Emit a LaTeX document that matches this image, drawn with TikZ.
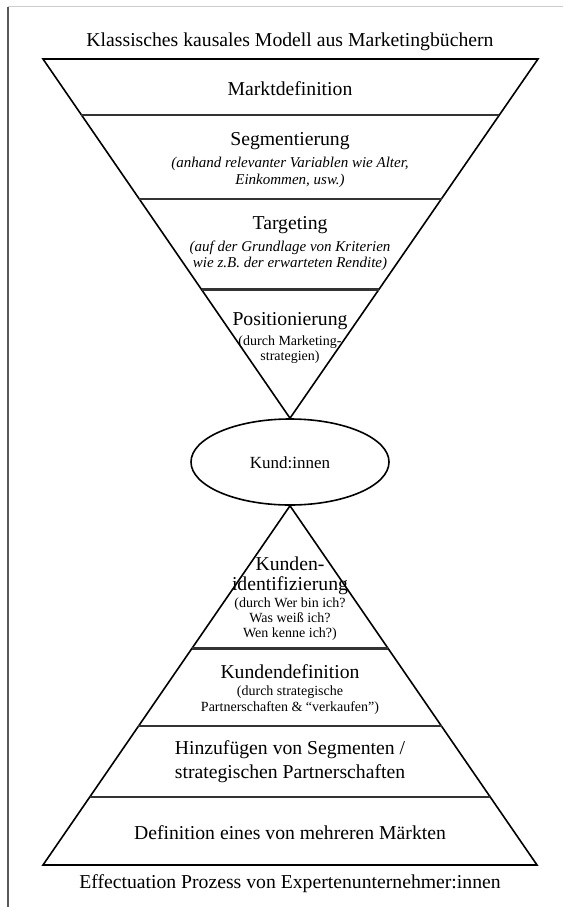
\documentclass[tikz,border=0pt]{standalone}
\usepackage{fontspec}
\setmainfont{Liberation Serif}
\usetikzlibrary{calc,shapes.geometric}
\tikzset{
  big/.style={font=\fontsize{19.7}{20}\selectfont, inner sep=0pt, anchor=base, text=black},
  mid/.style={font=\fontsize{17}{17}\selectfont, inner sep=0pt, anchor=base, text=black},
  ital/.style={font=\fontsize{15}{15}\selectfont\itshape, inner sep=0pt, anchor=base, text=black},
  small/.style={font=\fontsize{14}{14}\selectfont, inner sep=0pt, anchor=base, text=black},
  edge/.style={line width=1.6pt, black, line join=miter},
  band/.style={line width=2.1pt, black!80},
}
\begin{document}
\begin{tikzpicture}[x=1pt,y=-1pt]
\useasboundingbox (0,0) rectangle (563,907);
\fill[white] (0,0) rectangle (563,907);
% frame lines
\coordinate (ftl) at (8,7);
\coordinate (ftr) at (563,7);
\coordinate (fbl) at (8,907);
\draw[black!20, line width=1pt] (ftl) -- (ftr);
\draw[black!65, line width=1.3pt] (ftl) -- (fbl);

% ellipse
\node[ellipse, draw, line width=1.6pt, minimum width=198pt, minimum height=86pt, inner sep=0pt] (kunden) at (290,462) {};
\node[mid] (kundtxt) at (290,468.6) {Kund:innen};

% top funnel
\coordinate (tl) at (43,59);
\coordinate (tr) at (538,59);
\draw[edge] (tl) -- (tr) -- (kunden.north) -- cycle;
\draw[band] ($(tl)!0.1556!(kunden.north)$) -- ($(tr)!0.1556!(kunden.north)$);
\draw[band] ($(tl)!0.3889!(kunden.north)$) -- ($(tr)!0.3889!(kunden.north)$);
\draw[band] ($(tl)!0.6417!(kunden.north)$) -- ($(tr)!0.6417!(kunden.north)$);

% bottom pyramid
\coordinate (bl) at (43,865);
\coordinate (br) at (537,865);
\draw[edge] (bl) -- (br) -- (kunden.south) -- cycle;
\draw[band] ($(kunden.south)!0.3972!(bl)$) -- ($(kunden.south)!0.3972!(br)$);
\draw[band] ($(kunden.south)!0.6139!(bl)$) -- ($(kunden.south)!0.6139!(br)$);
\draw[band] ($(kunden.south)!0.8111!(bl)$) -- ($(kunden.south)!0.8111!(br)$);

% texts top
\node[big] (title) at (290,46.5) {Klassisches kausales Modell aus Marketingbüchern};
\node[big] (markt) at (290,95.5) {Marktdefinition};
\node[big] (seg) at (290,145.5) {Segmentierung};
\node[ital] (seg1) at (290,167) {(anhand relevanter Variablen wie Alter,};
\node[ital] (seg2) at (290,184) {Einkommen, usw.)};
\node[big] (targ) at (290,229.5) {Targeting};
\node[ital] (targ1) at (290,251) {(auf der Grundlage von Kriterien};
\node[ital] (targ2) at (290,267) {wie z.B. der erwarteten Rendite)};
\node[big] (pos) at (290,325.5) {Positionierung};
\node[small] (pos1) at (290,345.6) {(durch Marketing-};
\node[small] (pos2) at (290,360.6) {strategien)};

% texts bottom
\node[big] (kid1) at (290,570.5) {Kunden-};
\node[big] (kid2) at (290,590.5) {identifizierung};
\node[small] (kid3) at (290,607.6) {(durch Wer bin ich?};
\node[small] (kid4) at (290,622.6) {Was weiß ich?};
\node[small] (kid5) at (290,637.6) {Wen kenne ich?)};
\node[big] (kdef) at (290,678.5) {Kundendefinition};
\node[small] (kdef1) at (290,695.6) {(durch strategische};
\node[small] (kdef2) at (290,711.6) {Partnerschaften \& “verkaufen”)};
\node[big] (hin1) at (290,754.5) {Hinzufügen von Segmenten /};
\node[big] (hin2) at (290,778.5) {strategischen Partnerschaften};
\node[big] (defm) at (290,839.5) {Definition eines von mehreren Märkten};
\node[big] (eff) at (290,888.5) {Effectuation Prozess von Expertenunternehmer:innen};
\end{tikzpicture}
\end{document}
